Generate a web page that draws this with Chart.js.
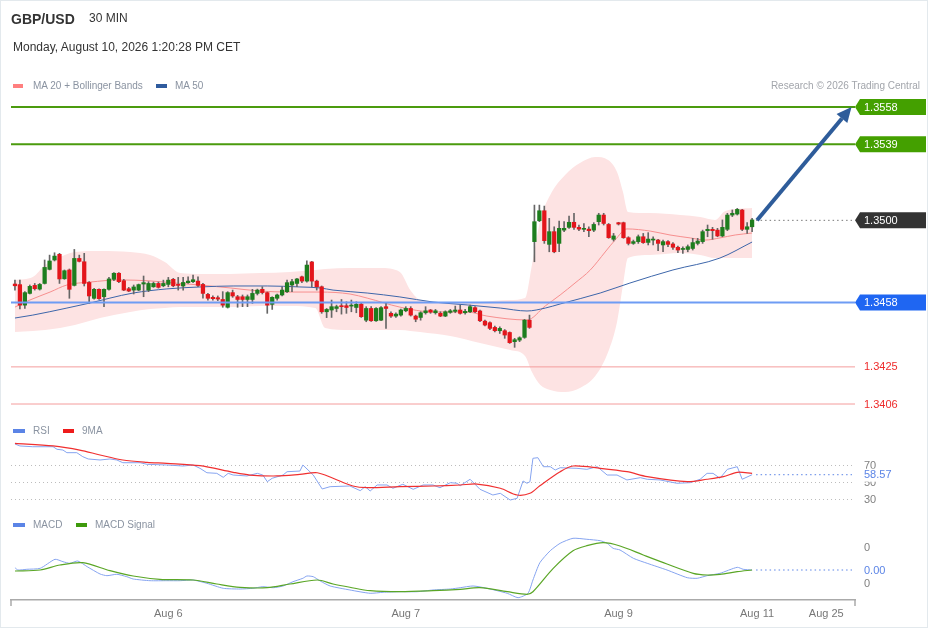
<!DOCTYPE html>
<html>
<head>
<meta charset="utf-8">
<script src="https://cdn.jsdelivr.net/npm/chart.js@4.4.1/dist/chart.umd.min.js"></script>
<style>
  html, body { margin: 0; padding: 0; background: #fff; }
  body { width: 929px; height: 629px; overflow: hidden; position: relative; font-family: "Liberation Sans", Arial, sans-serif; }
  #frame { position: absolute; left: 0; top: 0; width: 926px; height: 626px; border: 1px solid #e3e9ed; }
  canvas { position: absolute; left: 0; top: 0; }
  .t { position: absolute; white-space: nowrap; line-height: 1; }
  .sw { position: absolute; height: 4px; }
</style>
</head>
<body>
<div id="frame"></div>
<canvas id="chart" width="929" height="629"></canvas>

<div class="t" style="left:11px;top:12px;font-size:14px;font-weight:bold;color:#333">GBP/USD</div>
<div class="t" style="left:89px;top:12px;font-size:12px;color:#333">30 MIN</div>
<div class="t" style="left:13px;top:41px;font-size:12px;color:#333">Monday, August 10, 2026 1:20:28 PM CET</div>

<div class="sw" style="left:13px;top:84px;width:10px;background:#ff7f7f"></div>
<div class="t" style="left:33px;top:81px;font-size:10px;color:#8a93a1">MA 20 + Bollinger Bands</div>
<div class="sw" style="left:156px;top:84px;width:11px;background:#2f5b9e"></div>
<div class="t" style="left:175px;top:81px;font-size:10px;color:#8a93a1">MA 50</div>
<div class="t" style="right:9px;top:81px;font-size:10px;color:#a2a5ab">Research © 2026 Trading Central</div>

<div class="sw" style="left:13px;top:429px;width:12px;background:#5b84e6"></div>
<div class="t" style="left:33px;top:426px;font-size:10px;color:#8a93a1">RSI</div>
<div class="sw" style="left:63px;top:429px;width:11px;background:#ee1b1b"></div>
<div class="t" style="left:82px;top:426px;font-size:10px;color:#8a93a1">9MA</div>

<div class="sw" style="left:13px;top:523px;width:12px;background:#5b84e6"></div>
<div class="t" style="left:33px;top:520px;font-size:10px;color:#8a93a1">MACD</div>
<div class="sw" style="left:76px;top:523px;width:11px;background:#3e9a0c"></div>
<div class="t" style="left:95px;top:520px;font-size:10px;color:#8a93a1">MACD Signal</div>

<script>
// 30 min candles, GBP/USD
var opens = [
  1.34674, 1.34671, 1.34566, 1.34626, 1.34667, 1.34648, 1.34677, 1.34749, 1.34797, 1.34826,
  1.34701, 1.34746, 1.34667, 1.34805, 1.34788, 1.34682, 1.34601, 1.34647, 1.34609, 1.34647,
  1.34698, 1.34729, 1.34691, 1.34650, 1.34643, 1.34643, 1.34674, 1.34643, 1.34660, 1.34677,
  1.34665, 1.34672, 1.34698, 1.34669, 1.34664, 1.34681, 1.34686, 1.34689, 1.34672, 1.34621,
  1.34606, 1.34604, 1.34595, 1.34555, 1.34630, 1.34609, 1.34609, 1.34595, 1.34595, 1.34626,
  1.34647, 1.34630, 1.34570, 1.34601, 1.34618, 1.34635, 1.34669, 1.34677, 1.34711, 1.34689,
  1.34787, 1.34689, 1.34660, 1.34532, 1.34541, 1.34549, 1.34563, 1.34563, 1.34561, 1.34554,
  1.34571, 1.34489, 1.34549, 1.34486, 1.34489, 1.34558, 1.34524, 1.34510, 1.34515, 1.34537,
  1.34549, 1.34510, 1.34503, 1.34527, 1.34541, 1.34527, 1.34524, 1.34510, 1.34529, 1.34534,
  1.34541, 1.34527, 1.34532, 1.34553, 1.34536, 1.34484, 1.34476, 1.34452, 1.34435, 1.34435,
  1.34426, 1.34379, 1.34387, 1.34401, 1.34489, 1.34891, 1.34998, 1.35049, 1.34877, 1.34942,
  1.34882, 1.34950, 1.34964, 1.34990, 1.34964, 1.34954, 1.34955, 1.34950, 1.34993, 1.35027,
  1.34979, 1.34903, 1.34988, 1.34988, 1.34911, 1.34882, 1.34891, 1.34916, 1.34887, 1.34899,
  1.34899, 1.34874, 1.34891, 1.34879, 1.34862, 1.34851, 1.34851, 1.34856, 1.34882, 1.34891,
  1.34947, 1.34954, 1.34950, 1.34920, 1.34954, 1.35027, 1.35032, 1.35053, 1.34954, 1.34967
];
var highs = [
  1.34694, 1.34694, 1.34635, 1.34669, 1.34677, 1.34677, 1.34797, 1.34822, 1.34834, 1.34831,
  1.34746, 1.34751, 1.34851, 1.34822, 1.34831, 1.34686, 1.34652, 1.34650, 1.34650, 1.34708,
  1.34732, 1.34732, 1.34698, 1.34657, 1.34669, 1.34674, 1.34715, 1.34686, 1.34684, 1.34684,
  1.34694, 1.34708, 1.34703, 1.34708, 1.34708, 1.34711, 1.34720, 1.34711, 1.34677, 1.34626,
  1.34613, 1.34613, 1.34635, 1.34635, 1.34643, 1.34616, 1.34618, 1.34618, 1.34647, 1.34648,
  1.34660, 1.34633, 1.34609, 1.34623, 1.34660, 1.34694, 1.34698, 1.34703, 1.34715, 1.34793,
  1.34790, 1.34694, 1.34664, 1.34549, 1.34592, 1.34566, 1.34595, 1.34583, 1.34592, 1.34583,
  1.34578, 1.34558, 1.34558, 1.34553, 1.34558, 1.34578, 1.34532, 1.34527, 1.34546, 1.34558,
  1.34558, 1.34515, 1.34532, 1.34558, 1.34544, 1.34544, 1.34532, 1.34537, 1.34544, 1.34561,
  1.34566, 1.34544, 1.34566, 1.34558, 1.34541, 1.34489, 1.34481, 1.34459, 1.34455, 1.34441,
  1.34429, 1.34396, 1.34404, 1.34493, 1.34515, 1.35078, 1.35078, 1.35073, 1.35010, 1.34967,
  1.34996, 1.34993, 1.35022, 1.35036, 1.34976, 1.34984, 1.34967, 1.34988, 1.35036, 1.35036,
  1.34984, 1.34933, 1.34990, 1.34991, 1.34916, 1.34899, 1.34925, 1.34933, 1.34937, 1.34916,
  1.34903, 1.34899, 1.34896, 1.34886, 1.34868, 1.34865, 1.34874, 1.34908, 1.34908, 1.34950,
  1.34976, 1.34964, 1.34959, 1.35002, 1.35036, 1.35053, 1.35061, 1.35056, 1.34988, 1.35010
];
var lows = [
  1.34643, 1.34546, 1.34549, 1.34623, 1.34643, 1.34643, 1.34674, 1.34746, 1.34792, 1.34677,
  1.34698, 1.34601, 1.34664, 1.34787, 1.34664, 1.34575, 1.34597, 1.34595, 1.34558, 1.34643,
  1.34691, 1.34681, 1.34640, 1.34635, 1.34623, 1.34640, 1.34609, 1.34635, 1.34657, 1.34653,
  1.34660, 1.34660, 1.34660, 1.34643, 1.34643, 1.34677, 1.34681, 1.34660, 1.34601, 1.34592,
  1.34592, 1.34589, 1.34555, 1.34551, 1.34606, 1.34555, 1.34558, 1.34558, 1.34575, 1.34618,
  1.34623, 1.34524, 1.34544, 1.34592, 1.34613, 1.34630, 1.34635, 1.34660, 1.34681, 1.34684,
  1.34660, 1.34643, 1.34524, 1.34502, 1.34503, 1.34532, 1.34520, 1.34524, 1.34532, 1.34527,
  1.34503, 1.34481, 1.34482, 1.34482, 1.34486, 1.34447, 1.34503, 1.34503, 1.34510, 1.34532,
  1.34510, 1.34481, 1.34489, 1.34520, 1.34524, 1.34520, 1.34507, 1.34507, 1.34524, 1.34527,
  1.34520, 1.34520, 1.34527, 1.34527, 1.34481, 1.34459, 1.34441, 1.34429, 1.34421, 1.34396,
  1.34370, 1.34350, 1.34379, 1.34396, 1.34447, 1.34788, 1.34993, 1.34882, 1.34839, 1.34834,
  1.34839, 1.34942, 1.34959, 1.34954, 1.34947, 1.34942, 1.34916, 1.34942, 1.34976, 1.34976,
  1.34908, 1.34894, 1.34976, 1.34908, 1.34874, 1.34877, 1.34882, 1.34882, 1.34874, 1.34874,
  1.34845, 1.34839, 1.34865, 1.34851, 1.34834, 1.34831, 1.34839, 1.34848, 1.34874, 1.34882,
  1.34916, 1.34903, 1.34916, 1.34916, 1.34947, 1.35019, 1.35027, 1.34947, 1.34933, 1.34942
];
var closes = [
  1.34665, 1.34566, 1.34630, 1.34662, 1.34650, 1.34672, 1.34759, 1.34792, 1.34817, 1.34700,
  1.34742, 1.34647, 1.34805, 1.34790, 1.34677, 1.34613, 1.34647, 1.34599, 1.34647, 1.34700,
  1.34729, 1.34686, 1.34643, 1.34638, 1.34659, 1.34671, 1.34681, 1.34677, 1.34677, 1.34657,
  1.34677, 1.34694, 1.34665, 1.34667, 1.34682, 1.34689, 1.34696, 1.34667, 1.34626, 1.34601,
  1.34599, 1.34597, 1.34566, 1.34630, 1.34613, 1.34595, 1.34595, 1.34609, 1.34626, 1.34643,
  1.34630, 1.34566, 1.34606, 1.34618, 1.34643, 1.34681, 1.34686, 1.34700, 1.34689, 1.34771,
  1.34689, 1.34660, 1.34532, 1.34544, 1.34558, 1.34558, 1.34558, 1.34554, 1.34566, 1.34570,
  1.34507, 1.34549, 1.34486, 1.34549, 1.34553, 1.34549, 1.34510, 1.34520, 1.34541, 1.34549,
  1.34515, 1.34494, 1.34527, 1.34537, 1.34530, 1.34537, 1.34510, 1.34532, 1.34537, 1.34541,
  1.34524, 1.34534, 1.34558, 1.34532, 1.34486, 1.34464, 1.34447, 1.34435, 1.34447, 1.34413,
  1.34374, 1.34389, 1.34399, 1.34489, 1.34452, 1.34993, 1.35049, 1.34896, 1.34942, 1.34839,
  1.34959, 1.34959, 1.34990, 1.34964, 1.34955, 1.34959, 1.34947, 1.34979, 1.35027, 1.34984,
  1.34911, 1.34920, 1.34981, 1.34911, 1.34882, 1.34891, 1.34916, 1.34886, 1.34904, 1.34903,
  1.34882, 1.34891, 1.34877, 1.34862, 1.34848, 1.34856, 1.34865, 1.34886, 1.34894, 1.34942,
  1.34954, 1.34947, 1.34920, 1.34964, 1.35027, 1.35036, 1.35056, 1.34954, 1.34967, 1.35002
];

// Bollinger bands (read at sample bars)
var bandIdx = [0, 3.6, 6.1, 9.1, 12.1, 17.2, 23.3, 27.3, 30.3, 33.4, 37.4, 43.5, 49.5, 55.6, 60.7, 62.7, 67.7, 73.8, 77.8, 79.9,
  81.9, 88.0, 94.0, 100.1, 103.1, 104.5, 106.2, 108.2, 111.2, 114.2, 117.3, 119.9, 121.7, 122.9, 123.9, 128.4, 134.5, 138.5, 141.5, 143.6, 149.0];
var bandUpper = [1.34695, 1.34710, 1.34771, 1.34812, 1.34838, 1.34843, 1.34838, 1.34823, 1.34787, 1.34730, 1.34725, 1.34725, 1.34730, 1.34736, 1.34746, 1.34751, 1.34756, 1.34756, 1.34736, 1.34643,
  1.34592, 1.34577, 1.34582, 1.34592, 1.34602, 1.34771, 1.35002, 1.35130, 1.35232, 1.35293, 1.35324, 1.35309, 1.35247, 1.35145, 1.35043, 1.35037, 1.35027, 1.35017, 1.35002, 1.35048, 1.35063];
var bandLower = [1.34428, 1.34434, 1.34439, 1.34449, 1.34464, 1.34500, 1.34531, 1.34546, 1.34551, 1.34556, 1.34556, 1.34556, 1.34562, 1.34562, 1.34551, 1.34449, 1.34439, 1.34439, 1.34439, 1.34434,
  1.34428, 1.34408, 1.34372, 1.34336, 1.34306, 1.34224, 1.34157, 1.34132, 1.34121, 1.34142, 1.34203, 1.34326, 1.34480, 1.34669, 1.34807, 1.34823, 1.34833, 1.34823, 1.34807, 1.34807, 1.34807];

var ma20Idx = [0, 3.0, 7.1, 10.5, 15.2, 21.2, 27.3, 32.3, 37.4, 43.5, 49.5, 55.6, 61.7, 67.7, 71.2, 77.8, 84.5, 91.4, 95.4, 103.5,
  107.2, 110.2, 113.2, 116.3, 119.3, 121.3, 123.7, 128.4, 132.4, 136.5, 139.5, 142.5, 145.6, 149.0];
var ma20 = [1.34556, 1.34592, 1.34633, 1.34669, 1.34684, 1.34695, 1.34690, 1.34679, 1.34669, 1.34654, 1.34638, 1.34633, 1.34633, 1.34623, 1.34602, 1.34556, 1.34531, 1.34531, 1.34510, 1.34490,
  1.34562, 1.34618, 1.34679, 1.34746, 1.34838, 1.34899, 1.34956, 1.34945, 1.34925, 1.34910, 1.34899, 1.34910, 1.34925, 1.34935];

var ma50Idx = [0, 3.6, 10.5, 15.2, 19.2, 23.9, 30.7, 37.4, 44.1, 51.0, 57.6, 61.7, 64.3, 71.2, 77.8, 84.5, 91.4, 98.1, 103.5, 107.2,
  110.2, 118.3, 124.3, 133.0, 142.5, 149.0];
var ma50 = [1.34500, 1.34515, 1.34551, 1.34577, 1.34602, 1.34628, 1.34649, 1.34659, 1.34664, 1.34664, 1.34659, 1.34654, 1.34643, 1.34628, 1.34608, 1.34582, 1.34567, 1.34551, 1.34536, 1.34551,
  1.34572, 1.34628, 1.34679, 1.34746, 1.34807, 1.34889];

// RSI panel
var rsiIdx = [0, 1.0, 3.6, 7.7, 8.5, 9.7, 10.5, 12.5, 13.7, 14.8, 17.2, 19.2, 20.6, 21.8, 25.3, 26.7, 30.7, 34.0, 36.0, 37.4,
  38.8, 40.8, 42.1, 43.1, 44.1, 46.9, 49.0, 50.1, 51.0, 52.0, 54.2, 55.0, 57.6, 58.2, 60.3, 62.1, 63.7, 67.7, 69.8, 70.8,
  71.8, 73.2, 75.2, 76.4, 78.4, 80.5, 82.5, 84.5, 85.9, 88.0, 89.4, 90.0, 92.0, 94.0, 96.6, 98.1, 100.1, 101.5, 102.7, 103.5,
  104.1, 104.7, 105.7, 106.8, 108.2, 109.2, 110.2, 113.6, 115.6, 117.7, 119.7, 121.7, 123.7, 126.4, 127.8, 130.4, 133.8, 136.5, 138.5, 139.9,
  141.1, 142.5, 144.0, 146.0, 147.0, 149.0];
var rsi = [94.7, 92.4, 91.5, 91.5, 88.5, 87.6, 84.5, 84.5, 79.8, 77.1, 75.9, 77.1, 75.9, 72.7, 72.7, 70.8, 70.0, 68.8, 70.0, 66.1,
  60.9, 60.2, 55.5, 60.2, 58.2, 57.1, 60.2, 58.2, 50.4, 54.4, 58.2, 62.1, 62.9, 70.0, 58.2, 41.8, 44.5, 45.3, 39.8, 44.5,
  39.4, 46.5, 46.5, 42.6, 47.3, 41.4, 46.5, 46.5, 43.3, 49.2, 48.5, 45.6, 53.2, 41.4, 34.7, 36.7, 28.8, 30.8, 51.2, 48.5,
  50.4, 77.9, 78.6, 68.0, 68.0, 64.1, 66.8, 66.1, 64.9, 68.0, 58.2, 58.2, 52.4, 55.1, 53.2, 52.4, 48.5, 49.2, 53.2, 60.2,
  60.2, 54.4, 64.9, 68.0, 53.2, 58.57];
var rsiMaIdx = [0, 7.7, 13.1, 17.2, 21.8, 26.7, 30.7, 37.4, 44.1, 47.5, 53.0, 57.6, 61.1, 64.3, 68.3, 71.2, 77.8, 84.5, 90.0, 93.4,
  98.1, 101.5, 104.1, 106.1, 110.2, 112.8, 118.3, 123.7, 127.8, 135.9, 139.9, 143.2, 146.0, 149.0];
var rsiMa = [95.5, 92.4, 87.6, 81.8, 75.9, 73.2, 72.0, 69.2, 61.4, 58.2, 57.1, 59.0, 60.9, 54.4, 45.3, 43.3, 44.5, 45.3, 46.5, 47.6,
  42.6, 34.7, 36.7, 45.6, 62.1, 68.8, 66.1, 62.1, 56.3, 50.4, 53.2, 56.3, 61.4, 60.2];
var rsiLevels = [70, 50, 30];

// MACD panel
var macdIdx = [0, 0.6, 2.4, 5.1, 8.1, 9.7, 11.1, 12.7, 14.6, 17.2, 18.6, 20.6, 22.6, 23.9, 27.3, 30.7, 33.4, 36.0, 38.8, 42.1,
  45.5, 48.1, 50.1, 52.2, 54.2, 56.2, 58.2, 59.0, 60.3, 61.7, 63.7, 67.7, 71.8, 74.4, 77.8, 81.3, 84.5, 88.0, 90.0, 92.6,
  95.4, 99.5, 101.7, 103.7, 104.7, 106.1, 108.2, 110.2, 112.8, 115.6, 118.3, 119.7, 120.9, 122.3, 125.0, 127.8, 131.8, 135.9, 137.9, 139.9,
  142.5, 146.0, 147.2, 149.0];
var macd = [0.000125, 0.000061, 0.000081, 0.000108, 0.000358, 0.000292, 0.000247, 0.000311, 0.000153, -0.000050, -0.000097, -0.000058, -0.000125, -0.000189, -0.000236, -0.000236, -0.000236, -0.000217, -0.000308, -0.000447,
  -0.000467, -0.000447, -0.000403, -0.000431, -0.000383, -0.000264, -0.000169, -0.000106, -0.000125, -0.000244, -0.000383, -0.000494, -0.000586, -0.000558, -0.000542, -0.000542, -0.000494, -0.000467, -0.000431, -0.000383,
  -0.000447, -0.000586, -0.000708, -0.000586, -0.000217, 0.000264, 0.000597, 0.000803, 0.000942, 0.000914, 0.000875, 0.000803, 0.000664, 0.000617, 0.000386, 0.000247, 0.000061, -0.000153, -0.000169, -0.000097,
  -0.000031, 0.000136, 0.000081, 0.000061];
var signalIdx = [0, 5.1, 9.1, 13.7, 19.2, 23.9, 29.3, 36.0, 40.8, 45.5, 51.0, 55.6, 61.1, 64.3, 67.7, 71.8, 77.8, 84.5, 90.0, 94.0,
  99.5, 103.5, 104.7, 108.8, 112.8, 115.6, 118.9, 122.3, 127.0, 131.8, 137.1, 139.9, 142.5, 146.0, 149.0];
var signal = [0.000033, 0.000061, 0.000200, 0.000264, 0.000042, -0.000106, -0.000197, -0.000217, -0.000328, -0.000419, -0.000431, -0.000328, -0.000217, -0.000328, -0.000419, -0.000514, -0.000542, -0.000514, -0.000475, -0.000431,
  -0.000542, -0.000614, -0.000542, 0.000108, 0.000597, 0.000736, 0.000819, 0.000728, 0.000478, 0.000228, -0.000031, -0.000078, -0.000058, 0.000014, 0.000061];
var macdTicks = [0.0007, -0.0003];

// key levels
var resistances = [1.3558, 1.3539];
var pivot = 1.3458;
var supports = [1.3425, 1.3406];
var lastPrice = 1.3500;
var arrowFromIdx = 150, arrowToIdx = 169.1;

var dateTickIdx = [31, 79, 122, 150, 164];
var dateTickLabels = ['Aug 6', 'Aug 7', 'Aug 9', 'Aug 11', 'Aug 25'];

// layout of the panels (pixels inside the canvas)
var AREA_TOP = 60, AREA_BOTTOM = 600;
function axisRange(v1, y1, v2, y2) {
  var k = (y1 - y2) / (v1 - v2);
  return { min: v1 + (AREA_BOTTOM - y1) / k, max: v1 + (AREA_TOP - y1) / k };
}
var priceRange = axisRange(1.3558, 107, 1.3406, 404);
var rsiRange = axisRange(70, 465, 30, 499);
var macdRange = axisRange(0.0007, 547, -0.0003, 583);

function pts(xs, ys) {
  return xs.map(function(x, i){ return { x: x, y: ys[i] }; });
}

var GREEN = '#1e7d1e', RED = '#e3151b';
var bodyColors = opens.map(function(o, i){ return closes[i] > o ? GREEN : RED; });

var overlay = {
  id: 'overlay',
  beforeDatasetsDraw: function(chart) {
    var ctx = chart.ctx, a = chart.chartArea, r = chart.scales.rsi;
    ctx.save();
    ctx.strokeStyle = '#bdbdbd';
    ctx.lineWidth = 1;
    ctx.setLineDash([1, 3]);
    rsiLevels.forEach(function(v){
      var y = Math.round(r.getPixelForValue(v)) + 0.5;
      ctx.beginPath(); ctx.moveTo(a.left, y); ctx.lineTo(a.right - 3, y); ctx.stroke();
    });
    ctx.restore();
  },
  afterDatasetsDraw: function(chart) {
    var ctx = chart.ctx, a = chart.chartArea, s = chart.scales;
    var lastX = s.x.getPixelForValue(closes.length - 1) + 4;
    var tagX = a.right;
    ctx.save();

    function hline(p, color, w) {
      var y = s.y.getPixelForValue(p);
      ctx.strokeStyle = color; ctx.lineWidth = w; ctx.setLineDash([]);
      ctx.beginPath(); ctx.moveTo(a.left, y); ctx.lineTo(tagX, y); ctx.stroke();
    }
    function dotted(x0, y, color) {
      ctx.strokeStyle = color; ctx.lineWidth = 1; ctx.setLineDash([1.5, 3]);
      ctx.beginPath(); ctx.moveTo(x0, y); ctx.lineTo(tagX - 3, y); ctx.stroke();
      ctx.setLineDash([]);
    }
    function tag(y, txt, fill) {
      ctx.fillStyle = fill;
      ctx.beginPath();
      ctx.moveTo(tagX, y); ctx.lineTo(tagX + 5, y - 8); ctx.lineTo(tagX + 71, y - 8);
      ctx.lineTo(tagX + 71, y + 8); ctx.lineTo(tagX + 5, y + 8); ctx.closePath(); ctx.fill();
      ctx.fillStyle = '#fff';
      ctx.font = '11px "Liberation Sans", Arial, sans-serif';
      ctx.textBaseline = 'middle'; ctx.textAlign = 'left';
      ctx.fillText(txt, tagX + 9, y + 0.5);
    }
    function label(y, txt, color, bg) {
      ctx.font = '11px "Liberation Sans", Arial, sans-serif';
      ctx.textBaseline = 'middle'; ctx.textAlign = 'left';
      if (bg) { ctx.fillStyle = '#fff'; ctx.fillRect(tagX + 7, y - 6, ctx.measureText(txt).width + 4, 13); }
      ctx.fillStyle = color;
      ctx.fillText(txt, tagX + 9, y + 0.5);
    }

    resistances.forEach(function(p){ hline(p, '#4b9b0e', 2); });
    hline(pivot, '#6e9cf4', 2);
    supports.forEach(function(p){ hline(p, '#f49c9c', 1); });
    dotted(lastX, s.y.getPixelForValue(lastPrice), '#777');

    // target arrow
    var sx = s.x.getPixelForValue(arrowFromIdx), sy = s.y.getPixelForValue(lastPrice);
    var ex = s.x.getPixelForValue(arrowToIdx), ey = s.y.getPixelForValue(resistances[0]);
    var ang = Math.atan2(ey - sy, ex - sx), hl = 15, hw = 7;
    var bx = ex - hl * Math.cos(ang), by = ey - hl * Math.sin(ang);
    ctx.strokeStyle = '#2e5c9a'; ctx.fillStyle = '#2e5c9a'; ctx.lineWidth = 4; ctx.lineCap = 'butt';
    ctx.beginPath(); ctx.moveTo(sx, sy); ctx.lineTo(bx, by); ctx.stroke();
    ctx.beginPath(); ctx.moveTo(ex, ey);
    ctx.lineTo(bx + hw * Math.sin(ang), by - hw * Math.cos(ang));
    ctx.lineTo(bx - hw * Math.sin(ang), by + hw * Math.cos(ang));
    ctx.closePath(); ctx.fill();

    resistances.forEach(function(p){ tag(s.y.getPixelForValue(p), p.toFixed(4), '#44a000'); });
    tag(s.y.getPixelForValue(lastPrice), lastPrice.toFixed(4), '#333333');
    tag(s.y.getPixelForValue(pivot), pivot.toFixed(4), '#1f66f2');
    supports.forEach(function(p){ label(s.y.getPixelForValue(p), p.toFixed(4), '#ee2b2b'); });

    // RSI side
    var lastRsi = rsi[rsi.length - 1];
    dotted(lastX, s.rsi.getPixelForValue(lastRsi), '#5b84e6');
    rsiLevels.forEach(function(v){ label(s.rsi.getPixelForValue(v), String(v), '#808080'); });
    label(s.rsi.getPixelForValue(lastRsi), lastRsi.toFixed(2), '#5b84e6', true);

    // MACD side
    var lastMacd = macd[macd.length - 1];
    dotted(lastX, s.macd.getPixelForValue(lastMacd), '#5b84e6');
    macdTicks.forEach(function(v){ label(s.macd.getPixelForValue(v), String(Math.round(v)), '#808080'); });
    label(s.macd.getPixelForValue(lastMacd), lastMacd.toFixed(2), '#5b84e6');

    // axis end ticks
    ctx.strokeStyle = '#aaa'; ctx.lineWidth = 1.5; ctx.setLineDash([]);
    [a.left, a.right].forEach(function(x){
      ctx.beginPath(); ctx.moveTo(x, a.bottom); ctx.lineTo(x, a.bottom + 6); ctx.stroke();
    });
    ctx.restore();
  }
};

var ctx = document.getElementById('chart').getContext('2d');
var chart = new Chart(ctx, {
  type: 'line',
  data: {
    datasets: [
      { type: 'line', data: pts(bandIdx, bandUpper), yAxisID: 'y', borderWidth: 0, borderColor: 'rgba(0,0,0,0)',
        pointRadius: 0, fill: false, cubicInterpolationMode: 'monotone', order: 10 },
      { type: 'line', data: pts(bandIdx, bandLower), yAxisID: 'y', borderWidth: 0, borderColor: 'rgba(0,0,0,0)',
        pointRadius: 0, fill: '-1', backgroundColor: '#fde3e3', cubicInterpolationMode: 'monotone', order: 9 },
      { type: 'line', data: pts(ma20Idx, ma20), yAxisID: 'y', borderColor: '#f78f8f', borderWidth: 1,
        pointRadius: 0, cubicInterpolationMode: 'monotone', order: 5 },
      { type: 'line', data: pts(ma50Idx, ma50), yAxisID: 'y', borderColor: '#3d66aa', borderWidth: 1,
        pointRadius: 0, cubicInterpolationMode: 'monotone', order: 4 },
      { type: 'bar', data: opens.map(function(o, i){ return { x: i, y: [lows[i], highs[i]] }; }), yAxisID: 'y',
        backgroundColor: '#666', barThickness: 1, grouped: false, order: 3 },
      { type: 'bar', data: opens.map(function(o, i){ return { x: i, y: [o, closes[i]] }; }), yAxisID: 'y',
        backgroundColor: bodyColors, barThickness: 3.6, minBarLength: 1, grouped: false, order: 2 },
      { type: 'line', data: pts(rsiIdx, rsi), yAxisID: 'rsi', borderColor: '#86a4f0', borderWidth: 1,
        pointRadius: 0, tension: 0, order: 1 },
      { type: 'line', data: pts(rsiMaIdx, rsiMa), yAxisID: 'rsi', borderColor: '#f03030', borderWidth: 1.2,
        pointRadius: 0, tension: 0.3, order: 0 },
      { type: 'line', data: pts(macdIdx, macd), yAxisID: 'macd', borderColor: '#86a4f0', borderWidth: 1,
        pointRadius: 0, tension: 0.2, order: 1 },
      { type: 'line', data: pts(signalIdx, signal), yAxisID: 'macd', borderColor: '#5aa626', borderWidth: 1.2,
        pointRadius: 0, tension: 0.3, order: 0 }
    ]
  },
  options: {
    responsive: false,
    animation: false,
    events: [],
    layout: { padding: { left: 11, right: 74, top: AREA_TOP, bottom: 7 } },
    plugins: { legend: { display: false }, tooltip: { enabled: false } },
    scales: {
      x: {
        type: 'linear', min: -0.8, max: 169.8, offset: false,
        grid: { display: false, drawTicks: false },
        border: { display: true, color: '#aaa', width: 1.5 },
        afterBuildTicks: function(scale){ scale.ticks = dateTickIdx.map(function(v){ return { value: v }; }); },
        afterFit: function(scale){ scale.height = 22; },
        ticks: {
          autoSkip: false, maxRotation: 0, padding: 7, color: '#777',
          font: { family: '"Liberation Sans", Arial, sans-serif', size: 11 },
          callback: function(v, i){ return dateTickLabels[i]; }
        }
      },
      y: { type: 'linear', display: false, min: priceRange.min, max: priceRange.max },
      rsi: { type: 'linear', axis: 'y', position: 'right', display: false, min: rsiRange.min, max: rsiRange.max },
      macd: { type: 'linear', axis: 'y', position: 'right', display: false, min: macdRange.min, max: macdRange.max }
    }
  },
  plugins: [overlay]
});
</script>
</body>
</html>
